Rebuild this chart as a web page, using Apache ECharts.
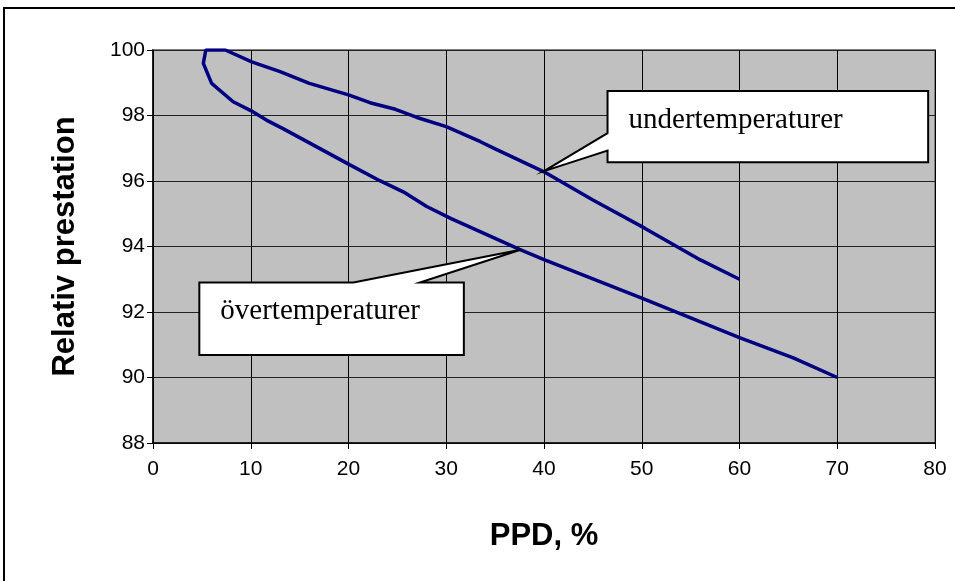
<!DOCTYPE html>
<html><head><meta charset="utf-8">
<script src="https://cdn.jsdelivr.net/npm/echarts@6/dist/echarts.min.js"></script>
<style>html,body{margin:0;padding:0;background:#fff}#c{width:955px;height:581px}</style>
</head><body><div id="c"></div>
<script>
// PPD (%) and relative performance, in drawing order (loop)
const ppd = [70, 65.5, 60, 50, 40, 37.5, 30.5, 28, 25.6, 23.2, 20.1, 13.3, 11.6, 10, 8.2, 6.0, 5.15, 5.4, 7.4, 10.1, 13, 16, 20, 22.2, 24.8, 27, 30, 33.5, 35, 40, 45, 50.3, 56, 60];
const prestation = [90.0, 90.6, 91.22, 92.42, 93.6, 93.91, 94.85, 95.22, 95.67, 96.01, 96.5, 97.6, 97.86, 98.15, 98.42, 98.98, 99.59, 100.0, 100.0, 99.64, 99.34, 98.98, 98.63, 98.39, 98.19, 97.94, 97.66, 97.2, 96.98, 96.28, 95.42, 94.56, 93.59, 93.0];
const xTicks = [0, 10, 20, 30, 40, 50, 60, 70, 80];
const yTicks = [88, 90, 92, 94, 96, 98, 100];
const xTitle = 'PPD, %';
const yTitle = 'Relativ prestation';
const calloutTexts = ['undertemperaturer', 'övertemperaturer'];
const calloutTips = [[40, 96.3], [37.6, 93.9]];

const chart = echarts.init(document.getElementById('c'), null, {renderer: 'canvas'});
const points = ppd.map((x, i) => [x, prestation[i]]);

chart.setOption({
  animation: false,
  backgroundColor: '#fff',
  grid: {left: 153, right: 20, top: 50, bottom: 138, show: true,
         backgroundColor: '#C0C0C0', borderColor: '#808080', borderWidth: 2},
  xAxis: {
    type: 'value', min: xTicks[0], max: xTicks[xTicks.length - 1], interval: xTicks[1] - xTicks[0],
    name: xTitle, nameLocation: 'middle', nameGap: 78,
    nameTextStyle: {fontFamily: 'Liberation Sans, Arial', fontWeight: 'bold', fontSize: 31, color: '#000'},
    axisLine: {show: true, lineStyle: {color: '#000', width: 1.5}},
    axisTick: {show: true, length: 6, lineStyle: {color: '#000'}},
    axisLabel: {color: '#000', fontFamily: 'Liberation Sans, Arial', fontSize: 21, margin: 16},
    splitLine: {show: true, lineStyle: {color: '#000', width: 1}}
  },
  yAxis: {
    type: 'value', min: yTicks[0], max: yTicks[yTicks.length - 1], interval: yTicks[1] - yTicks[0],
    name: yTitle, nameLocation: 'middle', nameGap: 72,
    nameTextStyle: {fontFamily: 'Liberation Sans, Arial', fontWeight: 'bold', fontSize: 31, color: '#000'},
    axisLine: {show: true, lineStyle: {color: '#000', width: 1.5}},
    axisTick: {show: true, length: 6, lineStyle: {color: '#000'}},
    axisLabel: {color: '#000', fontFamily: 'Liberation Sans, Arial', fontSize: 21, margin: 8},
    splitLine: {show: true, lineStyle: {color: '#222', width: 1}}
  },
  series: [{
    type: 'line', data: points, showSymbol: false, smooth: false,
    lineStyle: {color: '#000080', width: 3.5}, z: 3
  }]
});

// callout boxes (geometry in data units)
const boxes = [
  {x0: 46.5, x1: 79.3, y0: 98.75, y1: 96.57, side: 'left', w0: 97.46, w1: 96.93},
  {x0: 4.74, x1: 31.8, y0: 92.9, y1: 90.69, side: 'top', w0: 20.5, w1: 27.3}
];
const P = p => chart.convertToPixel({gridIndex: 0}, p);
const graphics = [{
  type: 'rect', shape: {x: 4, y: 8, width: 1000, height: 1000},
  style: {fill: null, stroke: '#000', lineWidth: 2}, z: 100, silent: true
}];
boxes.forEach((b, i) => {
  const tl = P([b.x0, b.y0]), br = P([b.x1, b.y1]);
  const tip = P(calloutTips[i]);
  let pts;
  if (b.side === 'left') {
    const a = P([b.x0, b.w0])[1], c = P([b.x0, b.w1])[1];
    pts = [[tl[0], tl[1]], [br[0], tl[1]], [br[0], br[1]], [tl[0], br[1]], [tl[0], c], tip, [tl[0], a]];
  } else {
    const a = P([b.w0, b.y0])[0], c = P([b.w1, b.y0])[0];
    pts = [[tl[0], tl[1]], [a, tl[1]], tip, [c, tl[1]], [br[0], tl[1]], [br[0], br[1]], [tl[0], br[1]]];
  }
  graphics.push({type: 'polygon', shape: {points: pts},
    style: {fill: '#fff', stroke: '#000', lineWidth: 2}, z: 50});
  graphics.push({type: 'text', x: tl[0] + 21, y: tl[1] + 29,
    style: {text: calloutTexts[i], fill: '#000', font: '29px "Liberation Serif", "Times New Roman", serif',
            verticalAlign: 'middle', align: 'left'}, z: 51});
});
chart.setOption({graphic: graphics});
</script></body></html>
